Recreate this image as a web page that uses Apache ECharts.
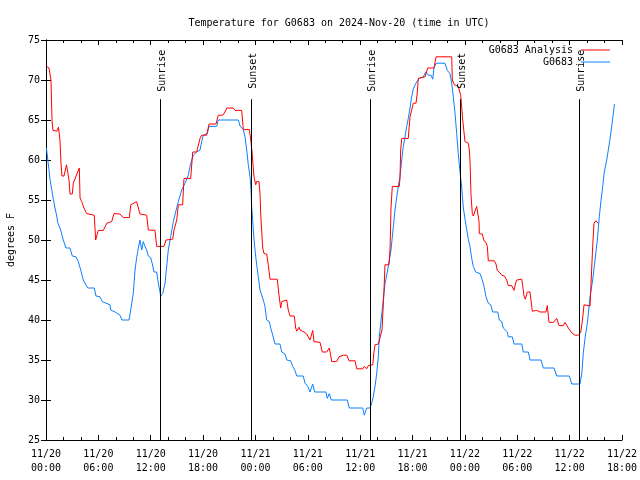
<!DOCTYPE html>
<html>
<head>
<meta charset="utf-8">
<script src="https://cdn.jsdelivr.net/npm/echarts@6/dist/echarts.min.js"></script>
<style>html,body{margin:0;padding:0;background:#fff;}#chart{width:640px;height:480px;}</style>
</head>
<body>
<div id="chart"></div>
<script>
// Hours since 2024-11-20 00:00 UTC
const analysisHours = [0.0,0.34,0.52,0.57,0.69,0.80,1.26,1.43,1.60,1.72,1.83,2.06,2.35,2.46,2.64,2.75,3.01,3.13,3.63,3.82,3.90,4.09,4.35,4.66,4.85,5.53,5.69,5.99,6.57,6.96,7.53,7.79,8.48,8.86,9.55,9.71,10.39,10.77,11.54,11.72,12.49,12.68,13.52,13.75,14.52,14.67,14.98,15.16,15.66,15.81,16.58,16.81,17.27,17.65,17.84,18.41,18.68,19.48,19.74,20.25,20.51,20.71,21.46,21.66,22.42,22.61,23.30,23.46,23.61,23.83,24.03,24.14,24.41,24.52,24.60,24.83,24.98,25.29,25.47,25.67,26.50,26.70,26.89,27.01,27.19,27.58,27.76,27.96,28.45,28.61,28.73,28.99,29.10,29.56,29.87,30.25,30.56,30.71,31.40,31.66,32.16,32.46,32.62,32.74,33.31,33.57,34.07,34.46,34.64,34.72,35.41,35.60,36.29,36.47,36.75,36.93,37.44,37.58,37.70,38.08,38.27,38.50,38.73,38.84,39.30,39.42,39.53,39.68,40.48,40.56,40.64,40.76,41.51,41.71,42.09,42.40,42.55,42.66,43.43,43.74,44.46,44.69,46.49,46.56,46.79,47.24,47.52,47.75,48.01,48.39,48.51,48.59,48.70,48.85,48.96,49.16,49.35,49.47,49.62,49.65,49.99,50.19,50.42,50.57,50.68,51.37,51.56,51.71,52.02,52.22,52.52,52.79,52.97,53.36,53.63,53.78,53.94,54.51,54.63,54.77,54.92,55.15,55.46,55.72,56.23,56.61,57.29,57.44,57.64,58.13,58.52,58.78,59.28,59.47,59.85,60.24,60.62,61.00,61.27,61.45,61.65,62.34,62.53,62.64,62.79,62.99,63.29];
const analysisTemps = [71.8,71.5,71.3,70.0,65.0,63.7,63.6,64.1,62.5,59.6,58.0,58.0,59.4,59.5,57.5,55.75,55.75,57.1,58.5,59.0,55.25,54.8,54.0,53.3,53.1,53.1,50.0,51.2,51.2,52.1,52.3,53.3,53.25,52.8,52.8,54.4,54.8,53.25,53.1,51.25,51.2,49.2,49.2,50.0,50.1,51.25,52.5,54.4,54.4,57.7,57.7,61.0,61.0,62.7,63.1,63.1,64.5,64.5,65.6,65.6,66.0,66.5,66.5,66.2,66.2,63.8,63.8,62.5,61.0,57.9,56.9,57.3,57.3,55.8,53.3,49.0,48.3,48.25,46.9,45.1,45.1,43.1,41.5,42.3,42.5,42.5,41.25,40.5,40.5,39.0,38.6,39.1,38.75,38.5,38.25,37.5,38.7,37.3,37.2,36.0,36.0,36.5,35.6,34.8,34.8,35.4,35.6,35.6,35.4,34.9,34.9,33.9,33.9,34.2,33.9,34.3,34.4,36.0,36.9,37.0,37.0,38.75,43.75,46.9,46.9,48.75,54.0,56.7,56.7,57.7,61.25,62.7,62.7,65.4,67.1,67.1,68.5,70.2,70.4,71.5,71.5,72.9,72.9,70.0,69.4,69.2,68.1,65.0,62.3,62.1,61.25,59.8,55.6,53.3,53.0,53.1,54.2,54.4,52.3,50.8,50.75,49.9,49.7,49.2,47.4,47.4,47.0,46.2,45.9,45.6,45.5,45.0,44.3,44.3,43.7,44.5,45.0,45.1,44.2,43.0,42.6,43.5,43.5,41.1,41.2,41.0,41.0,41.8,39.7,39.7,40.2,39.3,39.3,39.7,39.0,38.4,38.1,38.1,38.5,39.8,41.9,41.75,41.9,49.2,52.1,52.4,52.1];

const stationHours = [0.05,0.34,0.46,0.65,0.84,1.03,1.23,1.34,1.52,1.68,1.98,2.29,2.75,3.01,3.44,3.70,3.98,4.27,4.78,5.53,5.73,6.19,6.45,7.33,7.41,7.91,8.48,8.71,9.51,9.71,10.00,10.20,10.39,10.58,10.77,10.97,11.15,11.34,11.54,11.72,12.00,12.18,12.38,12.68,12.87,12.98,13.14,13.37,13.64,13.83,14.01,14.29,14.59,14.86,15.16,15.55,15.93,16.31,16.50,16.70,16.88,17.27,17.65,17.84,18.02,18.48,18.68,19.56,19.74,22.04,22.23,22.61,22.80,23.00,23.18,23.38,23.49,23.57,23.69,23.83,23.95,24.14,24.33,24.52,24.72,24.90,25.09,25.29,25.59,25.75,25.98,26.24,26.81,27.01,27.39,27.58,28.04,28.27,28.53,28.73,29.48,29.68,29.99,30.25,30.56,30.79,32.08,32.23,32.46,32.69,34.53,34.75,36.29,36.47,36.75,37.13,37.32,37.50,37.70,37.89,38.08,38.19,38.50,38.84,39.19,39.53,39.80,39.99,40.19,40.37,40.56,40.76,40.94,41.14,41.33,41.51,41.71,41.90,42.09,42.48,42.78,43.23,43.51,43.81,44.12,44.31,44.46,44.69,45.72,45.98,46.29,46.49,46.67,46.87,47.06,47.24,47.44,47.64,47.82,48.13,48.39,48.59,48.78,48.96,49.24,49.73,49.99,50.19,50.42,50.68,50.96,51.19,51.76,51.94,52.22,52.40,52.86,52.97,53.43,53.63,54.51,54.69,55.27,55.46,56.72,56.98,58.21,58.52,59.97,60.24,61.19,61.39,61.57,61.76,62.03,62.34,62.64,62.91,63.17,63.40,63.60,63.79,63.97,64.25,64.43,64.68,64.91,65.14];
const stationTemps = [61.5,58.8,57.6,56.3,55.1,54.0,53.0,52.2,52.0,51.25,50.0,49.0,49.0,48.0,47.9,47.3,46.25,45.0,44.0,44.0,43.0,42.9,42.3,41.9,41.25,41.0,40.6,40.0,40.0,41.25,43.3,46.25,47.8,49.0,50.0,48.75,49.8,49.2,48.75,48.0,47.8,47.0,46.0,46.0,44.6,44.0,43.0,43.3,44.6,46.7,48.75,50.4,52.3,53.5,54.8,56.25,57.1,58.1,59.2,60.0,60.6,61.0,61.25,62.3,63.1,63.3,64.2,64.2,65.0,65.0,64.25,63.8,62.9,61.25,59.4,57.9,56.25,54.2,52.3,50.2,48.75,46.9,45.4,43.75,43.1,42.5,41.7,40.0,39.8,39.0,38.1,37.0,37.0,36.0,35.75,35.0,34.9,34.2,33.7,33.0,33.0,32.1,31.7,31.0,32.0,31.0,31.0,30.2,30.8,30.0,30.0,29.0,29.0,28.1,29.0,29.0,29.6,30.4,31.7,33.3,35.4,37.9,41.0,44.5,46.5,48.75,51.7,53.75,55.4,56.7,57.9,60.0,61.7,62.9,64.2,65.2,66.5,67.9,68.9,69.8,70.2,70.4,71.0,70.6,70.6,70.1,71.5,72.1,72.1,71.2,70.8,69.6,67.9,65.8,63.3,60.8,58.5,56.5,54.0,51.8,50.1,49.1,47.7,46.7,46.0,45.8,45.0,44.2,42.9,42.1,41.9,41.0,41.0,40.0,39.8,39.0,38.5,37.9,37.9,37.0,37.0,36.0,36.0,35.0,35.0,34.0,34.0,33.0,33.0,32.0,32.0,33.3,35.9,37.7,39.6,42.9,45.0,47.5,50.0,52.9,55.0,56.7,58.5,60.0,61.25,63.0,65.0,67.0];

const sunEventHours = [13.09, 23.55, 37.15, 47.47, 61.11];
const sunEventNames = ['Sunrise', 'Sunset', 'Sunrise', 'Sunset', 'Sunrise'];

const yTicks = [25, 30, 35, 40, 45, 50, 55, 60, 65, 70, 75];
const seriesNames = ['G0683 Analysis', 'G0683'];

const FONT = 'DejaVu Sans Mono';
const zip = (a, b) => a.map((v, i) => [v, b[i]]);

const sunLines = [];
sunEventHours.forEach((h, i) => {
  sunLines.push([{ coord: [h, 25] }, { coord: [h, 67.6] }]);
  sunLines.push([
    { coord: [h, 68.4], lineStyle: { color: 'rgba(0,0,0,0)', width: 0 },
      label: { show: true, position: 'insideMiddle', formatter: sunEventNames[i], color: '#000', offset: [0, 2] } },
    { coord: [h, 73.9] }
  ]);
});

function xLabel(v) {
  const day = 20 + Math.floor(v / 24);
  const hh = Math.round(v % 24);
  return '11/' + day + '\n' + (hh < 10 ? '0' : '') + hh + ':00';
}

const chart = echarts.init(document.getElementById('chart'), null, { renderer: 'canvas' });
chart.setOption({
  animation: false,
  backgroundColor: '#ffffff',
  title: {
    text: 'Temperature for G0683 on 2024-Nov-20 (time in UTC)',
    left: 334, top: 13, textAlign: 'center',
    textStyle: { fontFamily: FONT, fontSize: 10, fontWeight: 'normal', color: '#000' }
  },
  legend: [
    { data: [seriesNames[0]], right: 30, top: 45, padding: 0, align: 'right', icon: 'rect', itemWidth: 29, itemHeight: 1,
      textStyle: { fontFamily: FONT, fontSize: 10, color: '#000', padding: [0, 3, 0, 0] }, selectedMode: false },
    { data: [seriesNames[1]], right: 30, top: 57, padding: 0, align: 'right', icon: 'rect', itemWidth: 29, itemHeight: 1,
      textStyle: { fontFamily: FONT, fontSize: 10, color: '#000', padding: [0, 3, 0, 0] }, selectedMode: false }
  ],
  grid: { left: 46, right: 18, top: 40, bottom: 40, containLabel: false, outerBoundsMode: 'none' },
  xAxis: [
    { type: 'value', min: 0, max: 66, interval: 6, position: 'bottom',
      axisLine: { show: true, lineStyle: { color: '#000', width: 1 } },
      axisTick: { show: true, inside: true, length: 5, lineStyle: { color: '#000' } },
      minorTick: { show: true, splitNumber: 3, length: 3, lineStyle: { color: '#000' } },
      splitLine: { show: false }, minorSplitLine: { show: false },
      axisLabel: { formatter: xLabel, fontFamily: FONT, fontSize: 10, color: '#000', lineHeight: 14, margin: 7 } },
    { type: 'value', min: 0, max: 66, interval: 6, position: 'top',
      axisLine: { show: true, lineStyle: { color: '#000', width: 1 } },
      axisTick: { show: true, inside: true, length: 5, lineStyle: { color: '#000' } },
      minorTick: { show: true, splitNumber: 3, length: 3, lineStyle: { color: '#000' } },
      splitLine: { show: false }, axisLabel: { show: false } }
  ],
  yAxis: [
    { type: 'value', min: 25, max: 75, interval: 5, position: 'left',
      name: 'degrees F', nameLocation: 'middle', nameRotate: 90, nameGap: 30,
      nameTextStyle: { fontFamily: FONT, fontSize: 10, color: '#000' },
      axisLine: { show: true, lineStyle: { color: '#000', width: 1 } },
      axisTick: { show: true, inside: true, length: 5, lineStyle: { color: '#000' } },
      splitLine: { show: false },
      axisLabel: { fontFamily: FONT, fontSize: 10, color: '#000', margin: 6,
        formatter: v => (yTicks.indexOf(v) >= 0 ? String(v) : '') } },
    { type: 'value', min: 25, max: 75, interval: 5, position: 'right',
      axisLine: { show: true, lineStyle: { color: '#000', width: 1 } },
      axisTick: { show: true, inside: true, length: 5, lineStyle: { color: '#000' } },
      splitLine: { show: false }, axisLabel: { show: false } }
  ],
  series: [
    { name: seriesNames[0], type: 'line', xAxisIndex: 0, yAxisIndex: 0,
      data: zip(analysisHours, analysisTemps), showSymbol: false, symbol: 'none',
      color: '#ff0000', lineStyle: { color: '#ff0000', width: 1 }, z: 3,
      markLine: {
        silent: true, symbol: ['none', 'none'], animation: false,
        lineStyle: { color: '#000', width: 1, type: 'solid' },
        label: { show: false, position: 'insideMiddle', fontFamily: FONT, fontSize: 10, color: '#000' },
        data: sunLines
      } },
    { name: seriesNames[1], type: 'line', xAxisIndex: 0, yAxisIndex: 0,
      data: zip(stationHours, stationTemps), showSymbol: false, symbol: 'none',
      color: '#0a80ff', lineStyle: { color: '#0a80ff', width: 1 }, z: 2 }
  ]
});
</script>
</body>
</html>
